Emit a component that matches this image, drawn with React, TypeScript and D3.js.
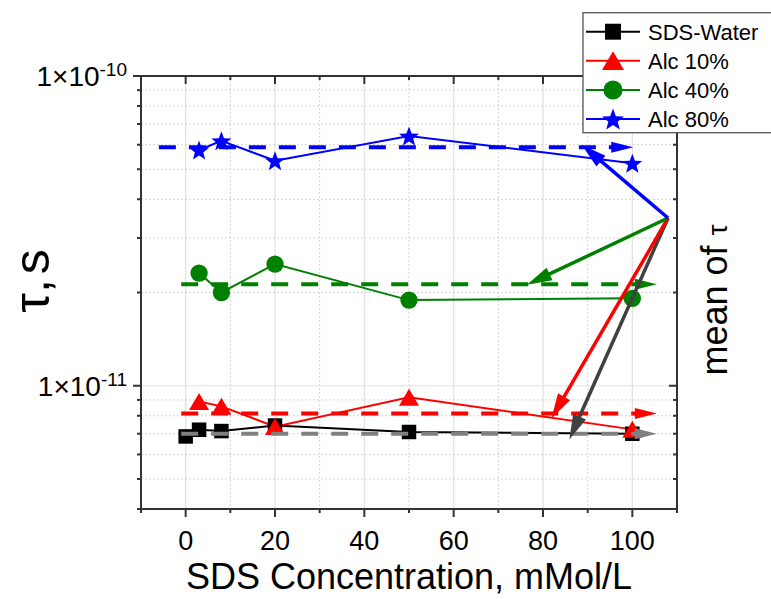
import React from 'react';
import * as d3 from 'd3';

const W = 771;
const H = 599;

// ---- data ----
const concWater = [0, 3, 8, 20, 50, 100];
const tauWater = [6.86e-12, 7.21e-12, 7.14e-12, 7.44e-12, 7.09e-12, 7.0e-12];
const concAlc = [3, 8, 20, 50, 100];
const tauAlc10 = [8.89e-12, 8.58e-12, 7.38e-12, 9.18e-12, 7.23e-12];
const tauAlc40 = [2.31e-11, 2.0e-11, 2.47e-11, 1.89e-11, 1.915e-11];
const tauAlc80 = [5.77e-11, 6.18e-11, 5.33e-11, 6.4e-11, 5.23e-11];
const seriesNames = ['SDS-Water', 'Alc 10%', 'Alc 40%', 'Alc 80%'];

// mean lines (dashed, with arrow heads)
const meanTau = [7.0e-12, 8.14e-12, 2.125e-11, 5.89e-11];
const meanStartX = [-1, -1, -1, -6];
const meanEndX = [105.5, 105.5, 105.5, 100.2];

// "mean of tau" annotation arrows
const arrowOriginX = 108;
const arrowOriginTau = 3.48e-11;
const arrowTipX = [85.9, 81.9, 76.4, 88.7];
const arrowTipTau = [6.71e-12, 7.85e-12, 2.12e-11, 5.99e-11];

// ticks
const xMajorTicks = [0, 20, 40, 60, 80, 100];
const xMinorTicks = [-10, 10, 30, 50, 70, 90, 110];
const yMajorTicks = [1e-11, 1e-10];
const yMajorExp = ['-11', '-10'];
const yMinorMult = [2, 3, 4, 5, 6, 7, 8, 9];
const yDecades = [1e-12, 1e-11];

// styles
const lineColors = ['#000000', '#ff0000', '#008000', '#0000ff'];
const meanColors = ['#808080', '#ff0000', '#008000', '#0000ff'];
const arrowColors = ['#404040', '#ff0000', '#008000', '#0000ff'];
const FONT = '"Liberation Sans", Arial, sans-serif';

const x = d3.scaleLinear().domain([-10, 110]).range([141, 677]);
const y = d3.scaleLog().domain([4e-12, 1e-10]).range([509, 76]);

const [X0, X1] = x.range();
const [Y0, Y1] = [y.range()[1], y.range()[0]]; // top, bottom

const yMinorTicks: number[] = [];
yDecades.forEach((d) =>
  yMinorMult.forEach((m) => {
    const v = d * m;
    if (v >= 4e-12 && v < 1e-10) yMinorTicks.push(v);
  })
);

type Kind = 'square' | 'triangle' | 'circle' | 'star';
const kinds: Kind[] = ['square', 'triangle', 'circle', 'star'];

function starPath(cx: number, cy: number, R: number, ratio = 0.42) {
  const pts: string[] = [];
  for (let i = 0; i < 10; i++) {
    const r = i % 2 === 0 ? R : R * ratio;
    const a = -Math.PI / 2 + (i * Math.PI) / 5;
    pts.push(`${cx + r * Math.cos(a)},${cy + r * Math.sin(a) + R * 0.1}`);
  }
  return 'M' + pts.join('L') + 'Z';
}

function Marker({ kind, cx, cy, color, scale = 1 }: { kind: Kind; cx: number; cy: number; color: string; scale?: number }) {
  if (kind === 'square') {
    const s = 14.5 * scale;
    return <rect x={cx - s / 2} y={cy - s / 2} width={s} height={s} fill={color} />;
  }
  if (kind === 'triangle') {
    const hw = 10 * scale;
    const hh = 8.5 * scale;
    return <polygon points={`${cx},${cy - hh} ${cx + hw},${cy + hh} ${cx - hw},${cy + hh}`} fill={color} />;
  }
  if (kind === 'circle') {
    return <circle cx={cx} cy={cy} r={8.7 * scale} fill={color} />;
  }
  return <path d={starPath(cx, cy, 10.5 * scale)} fill={color} />;
}

function Arrow({ x1, y1, x2, y2, color, width, headLen, headHalf, dash }: {
  x1: number; y1: number; x2: number; y2: number; color: string; width: number; headLen: number; headHalf: number; dash?: string;
}) {
  const dx = x2 - x1;
  const dy = y2 - y1;
  const len = Math.hypot(dx, dy);
  const ux = dx / len;
  const uy = dy / len;
  const bx = x2 - ux * headLen;
  const by = y2 - uy * headLen;
  const px = -uy;
  const py = ux;
  return (
    <g>
      <line x1={x1} y1={y1} x2={bx + ux * 1} y2={by + uy * 1} stroke={color} strokeWidth={width} strokeDasharray={dash} />
      <polygon
        points={`${x2},${y2} ${bx + px * headHalf},${by + py * headHalf} ${bx - px * headHalf},${by - py * headHalf}`}
        fill={color}
      />
    </g>
  );
}

export default function App() {
  const series = [
    { xs: concWater, ys: tauWater },
    { xs: concAlc, ys: tauAlc10 },
    { xs: concAlc, ys: tauAlc40 },
    { xs: concAlc, ys: tauAlc80 },
  ];
  const line = d3
    .line<[number, number]>()
    .x((d) => x(d[0]))
    .y((d) => y(d[1]));

  const ox = x(arrowOriginX);
  const oy = y(arrowOriginTau);

  const legendRows = [31.7, 60.7, 90, 119];

  return (
    <div style={{ position: 'absolute', left: 0, top: 0 }}>
      <svg width={W} height={H} style={{ display: 'block', background: '#fff' }} fontFamily={FONT}>
        <rect x={0} y={0} width={W} height={H} fill="#fff" />
        {/* grid */}
        <g>
          {xMinorTicks.filter((t) => t > -10 && t < 110).map((t) => (
            <line key={'gxm' + t} x1={x(t)} x2={x(t)} y1={Y0} y2={Y1} stroke="#d4d4d4" strokeWidth={1} strokeDasharray="2,2" />
          ))}
          {xMajorTicks.map((t) => (
            <line key={'gx' + t} x1={x(t)} x2={x(t)} y1={Y0} y2={Y1} stroke="#e0e0e0" strokeWidth={1.2} />
          ))}
          {yMinorTicks.filter((t) => t > 4e-12).map((t) => (
            <line key={'gym' + t} x1={X0} x2={X1} y1={y(t)} y2={y(t)} stroke="#d4d4d4" strokeWidth={1} strokeDasharray="2,2" />
          ))}
          {yMajorTicks.map((t) => (
            <line key={'gy' + t} x1={X0} x2={X1} y1={y(t)} y2={y(t)} stroke="#e0e0e0" strokeWidth={1.2} />
          ))}
        </g>

        {/* series lines */}
        {series.map((s, i) => (
          <path
            key={'l' + i}
            d={line(s.xs.map((v, j) => [v, s.ys[j]] as [number, number])) || ''}
            fill="none"
            stroke={lineColors[i]}
            strokeWidth={2}
          />
        ))}
        {/* markers */}
        {series.map((s, i) =>
          s.xs.map((v, j) => (
            <Marker key={'m' + i + '-' + j} kind={kinds[i]} cx={x(v)} cy={y(s.ys[j])} color={lineColors[i]} />
          ))
        )}

        {/* mean dashed lines with arrows */}
        {meanTau.map((m, i) => (
          <Arrow
            key={'mean' + i}
            x1={x(meanStartX[i])}
            y1={y(m)}
            x2={x(meanEndX[i])}
            y2={y(m)}
            color={meanColors[i]}
            width={4}
            headLen={22}
            headHalf={5.5}
            dash="17,13"
          />
        ))}

        {/* annotation arrows from mean point */}
        {arrowTipX.map((tx, i) => (
          <Arrow
            key={'ann' + i}
            x1={ox}
            y1={oy}
            x2={x(tx)}
            y2={y(arrowTipTau[i])}
            color={arrowColors[i]}
            width={3.5}
            headLen={25}
            headHalf={7}
          />
        ))}

        {/* axes frame */}
        <g stroke="#333" strokeWidth={2} fill="none">
          <line x1={X0} x2={X1} y1={Y0} y2={Y0} />
          <line x1={X0} x2={X1} y1={Y1} y2={Y1} />
          <line x1={X0} x2={X0} y1={Y0 - 1} y2={Y1 + 1} />
          <line x1={X1} x2={X1} y1={Y0 - 1} y2={Y1 + 1} />
          {xMajorTicks.map((t) => (
            <g key={'xt' + t}>
              <line x1={x(t)} x2={x(t)} y1={Y1} y2={Y1 + 8} />
              <line x1={x(t)} x2={x(t)} y1={Y0} y2={Y0 + 8} />
            </g>
          ))}
          {xMinorTicks.map((t) => (
            <g key={'xmt' + t}>
              <line x1={x(t)} x2={x(t)} y1={Y1} y2={Y1 + 4} />
              <line x1={x(t)} x2={x(t)} y1={Y0} y2={Y0 + 4} />
            </g>
          ))}
          {yMajorTicks.map((t) => (
            <g key={'yt' + t}>
              <line x1={X0 - 8} x2={X0} y1={y(t)} y2={y(t)} />
              <line x1={X1 - 8} x2={X1} y1={y(t)} y2={y(t)} />
            </g>
          ))}
          {yMinorTicks.map((t) => (
            <g key={'ymt' + t}>
              <line x1={X0 - 4} x2={X0} y1={y(t)} y2={y(t)} />
              <line x1={X1 - 4} x2={X1} y1={y(t)} y2={y(t)} />
            </g>
          ))}
        </g>

        {/* x tick labels */}
        {xMajorTicks.map((t) => (
          <text key={'xl' + t} x={x(t)} y={550} fontSize={27} textAnchor="middle" fill="#000">
            {t}
          </text>
        ))}
        {/* y tick labels */}
        {yMajorTicks.map((t, i) => (
          <text key={'yl' + t} x={127} y={y(t) + 10} fontSize={28} textAnchor="end" fill="#000">
            1×10
            <tspan fontSize={19} dy={-10}>
              {yMajorExp[i]}
            </tspan>
          </text>
        ))}

        {/* axis titles */}
        <text x={409} y={589} fontSize={36} textAnchor="middle" fill="#000">
          SDS Concentration, mMol/L
        </text>
        <text transform="translate(49,281) rotate(-90)" fontSize={50} textAnchor="middle" fill="#000">
          τ,<tspan dx={5}>s</tspan>
        </text>
        <text transform="translate(727,300) rotate(-90)" fontSize={36} textAnchor="middle" fill="#000">
          mean of <tspan fontSize={28}>τ</tspan>
        </text>

        {/* legend */}
        <g>
          <rect x={583} y={12.7} width={220} height={120} fill="#fff" stroke="#555" strokeWidth={1.3} />
          {seriesNames.map((n, i) => (
            <g key={'lg' + i}>
              <line x1={586} x2={640} y1={legendRows[i]} y2={legendRows[i]} stroke={lineColors[i]} strokeWidth={2} />
              <Marker kind={kinds[i]} cx={613} cy={legendRows[i]} color={lineColors[i]} scale={1.1} />
              <text x={648} y={legendRows[i] + 8} fontSize={22} fill="#000">
                {n}
              </text>
            </g>
          ))}
        </g>
      </svg>
    </div>
  );
}
